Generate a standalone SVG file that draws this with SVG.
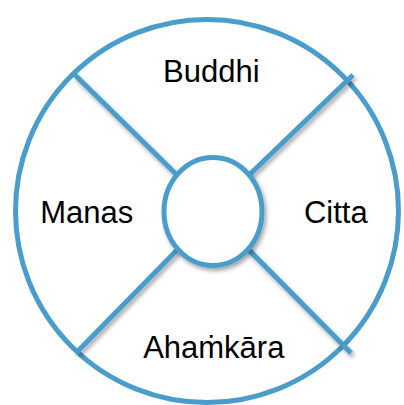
<svg xmlns="http://www.w3.org/2000/svg" width="404" height="405" viewBox="0 0 404 405">
<defs>
<style>
.ring{fill:#fff;stroke:#4a9dcb;stroke-width:5}
.spoke{stroke:#4a9dcb;stroke-width:5;stroke-linecap:butt;fill:none}
.lbl{font-family:"Liberation Sans",Arial,sans-serif;font-size:31px;fill:#000;text-anchor:middle}
</style>
<filter id="sh" x="-20%" y="-20%" width="150%" height="150%">
<feDropShadow dx="2" dy="3" stdDeviation="2" flood-color="#000" flood-opacity="0.35"/>
</filter>
</defs>
<g id="outer"><circle class="ring" cx="207" cy="211" r="191.5"/></g>
<g id="connectors" filter="url(#sh)">
<line class="spoke" x1="75" y1="75" x2="180" y2="178"/>
<line class="spoke" x1="353" y1="75" x2="246" y2="178"/>
<line class="spoke" x1="76" y1="353" x2="180" y2="247"/>
<line class="spoke" x1="351" y1="353" x2="246" y2="247"/>
</g>
<g id="center" filter="url(#sh)"><ellipse class="ring" cx="213" cy="211.5" rx="49" ry="54"/></g>
<g id="buddhi"><text class="lbl" x="211.3" y="81.7">Buddhi</text></g>
<g id="manas"><text class="lbl" x="86.7" y="222.7">Manas</text></g>
<g id="citta"><text class="lbl" x="335.8" y="222.7">Citta</text></g>
<g id="ahamkara"><text class="lbl" x="213.8" y="358.3">Ahaṁkāra</text></g>
</svg>
